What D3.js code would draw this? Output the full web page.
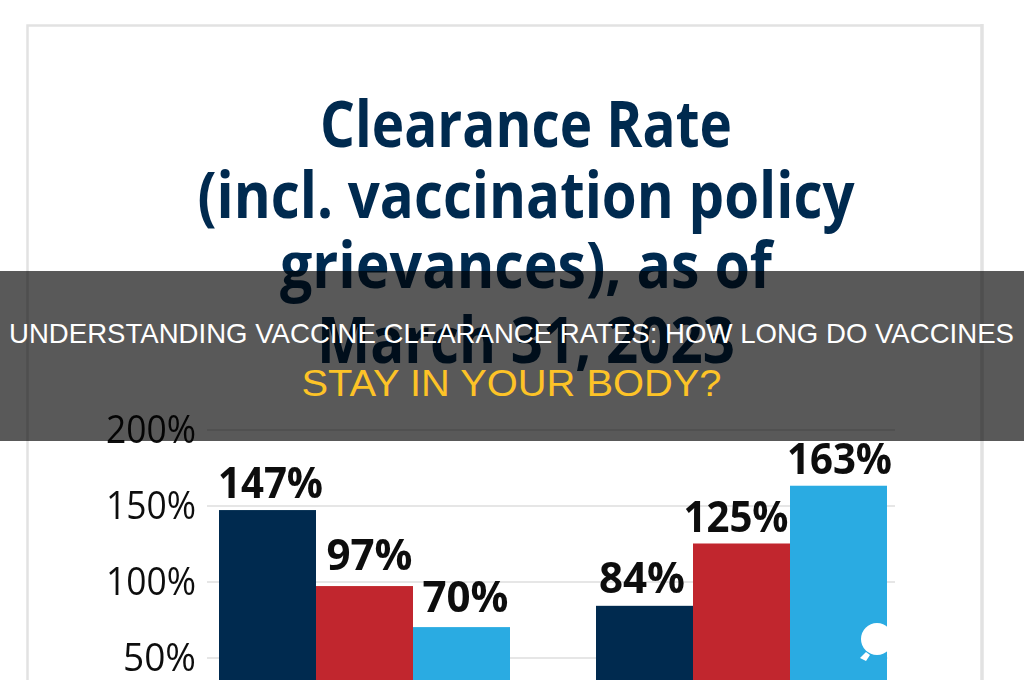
<!DOCTYPE html>
<html><head><meta charset="utf-8">
<script src="https://cdnjs.cloudflare.com/ajax/libs/d3/7.8.5/d3.min.js"></script>
<style>html,body{margin:0;padding:0;background:#fff;overflow:hidden}svg{display:block}</style>
</head><body>
<div id="chart"></div>
<script>
const groups = ["A", "B"];
const seriesNames = ["Navy", "Red", "Blue"];
const seriesA = [147, 97, 70];
const seriesB = [84, 125, 163];
const seriesColors = ["#042c50", "#c1272d", "#29abe2"];
const yTicks = [50, 100, 150, 200];
const titleLines = ["Clearance Rate", "(incl. vaccination policy", "grievances), as of", "March 31, 2023"];
const headline1 = "UNDERSTANDING VACCINE CLEARANCE RATES: HOW LONG DO VACCINES";
const headline2 = "STAY IN YOUR BODY?";

// layout only
const titleWidths = [412, 657, 492, 418];
const titleBase = [147, 218, 288, 363];
const labelDx = {A: [3, 5, 4], B: [-2.5, -5.5, 1]};
const labelDy = {A: [12, 16, 15], B: [13, 12, 12]};

const W = 1024, H = 680;
const svg = d3.select("#chart").append("svg").attr("width", W).attr("height", H);
const defs = svg.append("defs");
defs.append("filter").attr("id", "soft").append("feGaussianBlur").attr("stdDeviation", 0.6);
const img = svg.append("g").attr("filter", "url(#soft)");

const frame = img.append("g").attr("stroke", "#e2e2e2").attr("fill", "none");
frame.append("path").attr("d", "M27.5 680V25.5H982").attr("stroke-width", 2.5);
frame.append("path").attr("d", "M982 24V680").attr("stroke-width", 3.5);

titleLines.forEach((t, i) => {
  img.append("text").text(t).attr("x", 526).attr("y", titleBase[i])
    .attr("text-anchor", "middle").attr("font-family", "'Open Sans'").attr("font-weight", 700)
    .attr("font-size", 64).attr("fill", "#03294f")
    .attr("textLength", titleWidths[i]).attr("lengthAdjust", "spacingAndGlyphs");
});

const y = d3.scaleLinear().domain([0, 200]).range([733.5, 429.5]);
const xPos = d3.scaleOrdinal().domain(groups).range([219, 596]);
const x1 = d3.scaleBand().domain(seriesNames).range([0, 291]);

const grid = d3.axisLeft(y).tickValues(yTicks).tickSize(-(895 - 207)).tickFormat(d => d + "%");
const gAxis = img.append("g").attr("transform", "translate(207,0)").call(grid);
gAxis.select(".domain").remove();
gAxis.selectAll("line").attr("stroke", "#e6e6e6").attr("stroke-width", 2);
gAxis.selectAll("text").attr("x", -11).attr("dy", "0.34em")
  .attr("font-family", "'Open Sans'").attr("font-size", 39).attr("fill", "#111")
  .attr("textLength", d => d >= 100 ? 90 : 73).attr("lengthAdjust", "spacingAndGlyphs");

const rows = [["A", seriesA], ["B", seriesB]];
rows.forEach(([g, vals]) => {
  const bars = img.append("g").attr("transform", `translate(${xPos(g)},0)`);
  bars.selectAll("rect").data(vals).join("rect")
    .attr("x", (d, i) => x1(seriesNames[i])).attr("width", x1.bandwidth())
    .attr("y", d => y(d)).attr("height", d => y(0) - y(d))
    .attr("fill", (d, i) => seriesColors[i]);
  bars.selectAll("text").data(vals).join("text")
    .attr("x", (d, i) => x1(seriesNames[i]) + x1.bandwidth() / 2 + labelDx[g][i])
    .attr("y", (d, i) => y(d) - labelDy[g][i])
    .attr("text-anchor", "middle").attr("font-family", "'Open Sans'").attr("font-weight", 700)
    .attr("font-size", 43).attr("fill", "#0a0a0a")
    .attr("textLength", d => d >= 100 ? 105 : 86).attr("lengthAdjust", "spacingAndGlyphs")
    .text(d => d + "%");
});

// watermark blot
svg.append("ellipse").attr("cx", 877).attr("cy", 639).attr("rx", 16).attr("ry", 16).attr("fill", "#fff");
svg.append("path").attr("d", "M860 658L866 652L870 655L866 661Z").attr("fill", "#fff");
svg.append("rect").attr("x", 887.5).attr("y", 622).attr("width", 92).attr("height", 40).attr("fill", "#fff");

svg.append("rect").attr("x", 0).attr("y", 271).attr("width", W).attr("height", 170).attr("fill", "#000").attr("fill-opacity", 0.65);
svg.append("text").text(headline1).attr("x", 511.5).attr("y", 343).attr("text-anchor", "middle")
  .attr("font-family", "'Liberation Sans'").attr("font-size", 27.5).attr("fill", "#fff")
  .attr("textLength", 1005).attr("lengthAdjust", "spacingAndGlyphs");
svg.append("text").text(headline2).attr("x", 511.5).attr("y", 396).attr("text-anchor", "middle")
  .attr("font-family", "'Liberation Sans'").attr("font-size", 37).attr("fill", "#fdc327")
  .attr("textLength", 420).attr("lengthAdjust", "spacingAndGlyphs");
</script>
</body></html>
